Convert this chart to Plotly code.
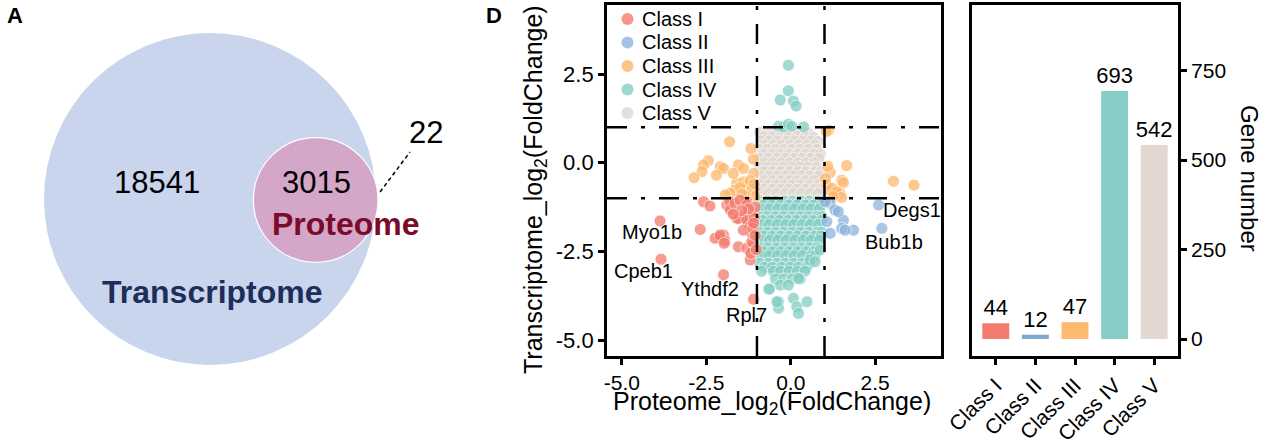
import plotly.graph_objects as go
import math

FONT = "Liberation Sans, Arial, sans-serif"

# ---------------- data ----------------
venn_counts = {"transcriptome_only": 18541, "overlap": 3015, "proteome_only": 22}

classes = ["Class I", "Class II", "Class III", "Class IV", "Class V"]
gene_numbers = [44, 12, 47, 693, 542]
colors = ["#F47A6C", "#8DB4DB", "#FDB86C", "#83CEC4", "#E0D6CF"]
bar_colors = ["#F57B6E", "#7FA8CE", "#FDB970", "#87CFC6", "#E3D8D1"]

x_ticks = [-5.0, -2.5, 0.0, 2.5]
x_ticktext = ["-5.0", "-2.5", "0.0", "2.5"]
y_ticks = [-5.0, -2.5, 0.0, 2.5]
y_ticktext = ["-5.0", "-2.5", "0.0", "2.5"]
bar_ticks = [0, 250, 500, 750]

c1_x = [-3.87, -3.84, -1.99, -1.10, -2.68, -2.58, -2.39, -1.99, -2.10, -1.95, -1.55, -1.30, -1.20,
        -1.10, -1.89, -1.80, -1.60, -1.35, -1.25, -1.15, -1.30, -2.24, -2.09, -1.97, -1.15, -1.79,
        -1.65, -1.50, -1.30, -1.55, -1.30, -1.20, -1.15, -1.40, -1.05, -1.08, -1.12, -1.25, -1.45,
        -1.05, -1.18, -1.70, -1.02, -1.10]
c1_y = [-1.64, -2.72, -3.16, -3.85, -1.88, -1.10, -1.22, -2.04, -2.10, -2.20, -2.37, -2.41, -2.74,
        -2.27, -1.19, -1.10, -1.57, -1.50, -1.70, -1.40, -1.10, -2.13, -2.04, -2.27, -2.23, -1.33,
        -1.15, -1.05, -1.19, -1.57, -1.62, -1.80, -1.99, -1.90, -1.25, -1.55, -1.85, -1.30, -1.35,
        -2.05, -2.55, -1.45, -2.45, -1.70]

c2_x = [2.60, 2.70, 1.17, 1.31, 1.56, 1.51, 1.86, 1.17, 1.07, 1.41, 1.61, 1.02]
c2_y = [-1.19, -1.85, -1.15, -1.33, -1.62, -1.85, -1.90, -1.99, -1.66, -1.38, -1.90, -1.10]

c3_x = [-1.81, -2.44, -2.58, -2.63, -2.86, -2.09, -1.99, -1.55, -1.40, -1.60, -1.40, -1.30, -1.65,
        -1.79, -1.94, -1.10, -1.10, -1.20, -1.05, -1.25, 1.12, 1.05, 1.66, 1.17, 1.51, 1.56, 1.07,
        1.17, 1.31, 1.46, 3.04, 3.65, 1.22, 1.36, 1.51, 1.03, -1.50, -1.15, -1.05, 1.10, -1.35,
        -1.70, -2.20, -1.08, 1.25, -1.18, -1.45]
c3_y = [0.59, 0.06, -0.06, -0.25, -0.42, -0.11, -0.16, -0.06, -0.16, -0.58, -0.54, -0.63, -0.77,
        -0.86, -0.91, 0.10, -0.30, -0.50, -0.70, -0.85, 0.92, 0.88, -0.08, -0.27, -0.49, -0.56, -0.63,
        -0.77, -0.82, -0.86, -0.52, -0.63, -0.72, -0.82, -0.98, -0.45, -0.70, -0.75, -0.95, -0.10,
        -0.92, -0.30, -0.35, -0.60, -0.95, 0.40, -0.88]

c4_x = [-0.07, -0.07, -0.31, 0.08, 0.16, -0.36, -0.22, -0.07, 0.03, 0.38,
        -0.93, -0.68, -0.44, -0.19, 0.06, 0.30, 0.55, 0.80, 0.95,
        -0.80, -0.56, -0.31, -0.06, 0.19, 0.44, 0.68, 0.90,
        -0.88, -0.63, -0.38, -0.14, 0.11, 0.36, 0.60, 0.85,
        -0.95, -0.71, -0.46, -0.22, 0.03, 0.27, 0.52, 0.77, 0.93,
        -0.83, -0.58, -0.33, -0.08, 0.17, 0.42, 0.66, 0.90,
        -0.90, -0.65, -0.40, -0.15, 0.09, 0.34, 0.58, 0.83,
        -0.94, -0.69, -0.45, -0.20, 0.05, 0.29, 0.54, 0.78, 0.92,
        -0.80, -0.55, -0.30, -0.05, 0.20, 0.45, 0.70, 0.90,
        -0.88, -0.63, -0.38, -0.13, 0.12, 0.37, 0.61, 0.85,
        -0.93, -0.68, -0.43, -0.18, 0.07, 0.31, 0.56, 0.78,
        -0.80, -0.55, -0.30, -0.05, 0.20, 0.45, 0.68,
        -0.90, -0.64, -0.39, -0.14, 0.10, 0.35, 0.60, 0.72,
        -0.92, -0.66, -0.41, -0.16, 0.09, 0.34, 0.55,
        -0.78, -0.55, -0.28, -0.02, 0.22, 0.47,
        -0.86, -0.51, -0.30, -0.05, 0.20, 0.42,
        -0.45, -0.20, 0.05, 0.28,
        -0.31, -0.07, 0.23,
        -0.66, -0.36, -0.36, 0.08, 0.18, 0.23, 0.48, 0.57, 0.72, 0.87, -0.63, -0.41]
c4_y = [2.75, 2.03, 1.77, 1.74, 1.60, 1.03, 1.01, 1.09, 1.03, 1.01,
        -1.08, -1.08, -1.08, -1.08, -1.08, -1.08, -1.08, -1.08, -1.08,
        -1.19, -1.19, -1.19, -1.19, -1.19, -1.19, -1.19, -1.19,
        -1.30, -1.30, -1.30, -1.30, -1.30, -1.30, -1.30, -1.30,
        -1.52, -1.52, -1.52, -1.52, -1.52, -1.52, -1.52, -1.52, -1.52,
        -1.63, -1.63, -1.63, -1.63, -1.63, -1.63, -1.63, -1.63,
        -1.74, -1.74, -1.74, -1.74, -1.74, -1.74, -1.74, -1.74,
        -1.96, -1.96, -1.96, -1.96, -1.96, -1.96, -1.96, -1.96, -1.96,
        -2.07, -2.07, -2.07, -2.07, -2.07, -2.07, -2.07, -2.07,
        -2.18, -2.18, -2.18, -2.18, -2.18, -2.18, -2.18, -2.18,
        -2.40, -2.40, -2.40, -2.40, -2.40, -2.40, -2.40, -2.40,
        -2.51, -2.51, -2.51, -2.51, -2.51, -2.51, -2.51,
        -2.62, -2.62, -2.62, -2.62, -2.62, -2.62, -2.62, -2.62,
        -2.84, -2.84, -2.84, -2.84, -2.84, -2.84, -2.84,
        -2.95, -2.95, -2.95, -2.95, -2.95, -2.95,
        -3.06, -3.06, -3.06, -3.06, -3.06, -3.06,
        -3.28, -3.28, -3.28, -3.28,
        -3.45, -3.45, -3.26,
        -3.57, -3.92, -4.10, -3.82, -4.06, -4.25, -3.92, -2.74, -2.79, -2.46, -3.56, -3.92]

c5_x = [-0.92, -0.68, -0.43, -0.18, 0.07, 0.31, 0.52,
        -0.80, -0.55, -0.30, -0.06, 0.19, 0.42, 0.68,
        -0.88, -0.63, -0.39, -0.12, 0.12, 0.36, 0.60, 0.82,
        -0.78, -0.52, -0.28, -0.02, 0.24, 0.48, 0.72,
        -0.93, -0.70, -0.45, -0.20, 0.04, 0.28, 0.53, 0.78,
        -0.80, -0.55, -0.30, -0.06, 0.19, 0.43, 0.68, 0.88,
        -0.90, -0.66, -0.41, -0.15, 0.10, 0.34, 0.58, 0.84,
        -0.78, -0.53, -0.28, -0.03, 0.22, 0.46, 0.70,
        -0.94, -0.70, -0.46, -0.22, 0.03, 0.27, 0.51, 0.76,
        -0.80, -0.55, -0.30, -0.04, 0.21, 0.45, 0.70, 0.90,
        -0.89, -0.64, -0.40, -0.16, 0.09, 0.33, 0.57, 0.82,
        -0.78, -0.53, -0.28, -0.04, 0.18, 0.43, 0.68,
        -0.92, -0.68, -0.44, -0.20, 0.05, 0.29, 0.54, 0.80,
        -0.80, -0.55, -0.31, -0.06, 0.19, 0.44, 0.69, 0.90,
        -0.90, -0.66, -0.42, -0.17, 0.08, 0.32, 0.57, 0.81]
c5_y = [0.86, 0.86, 0.86, 0.86, 0.86, 0.86, 0.84,
        0.74, 0.74, 0.74, 0.74, 0.74, 0.74, 0.72,
        0.62, 0.62, 0.62, 0.62, 0.62, 0.62, 0.62, 0.60,
        0.50, 0.50, 0.50, 0.50, 0.50, 0.50, 0.50,
        0.38, 0.38, 0.38, 0.38, 0.38, 0.38, 0.38, 0.38,
        0.25, 0.25, 0.25, 0.25, 0.25, 0.25, 0.25, 0.25,
        0.13, 0.13, 0.13, 0.13, 0.13, 0.13, 0.13, 0.13,
        0.00, 0.00, 0.00, 0.00, 0.00, 0.00, 0.00,
        -0.12, -0.12, -0.12, -0.12, -0.12, -0.12, -0.12, -0.12,
        -0.25, -0.25, -0.25, -0.25, -0.25, -0.25, -0.25, -0.25,
        -0.37, -0.37, -0.37, -0.37, -0.37, -0.37, -0.37, -0.37,
        -0.50, -0.50, -0.50, -0.50, -0.50, -0.50, -0.50,
        -0.62, -0.62, -0.62, -0.62, -0.62, -0.62, -0.62, -0.62,
        -0.74, -0.74, -0.74, -0.74, -0.74, -0.74, -0.74, -0.74,
        -0.86, -0.86, -0.86, -0.86, -0.86, -0.86, -0.86, -0.86]

gene_labels = ["Myo1b", "Cpeb1", "Ythdf2", "Rpl7", "Degs1", "Bub1b"]
gene_label_x = [-4.11, -4.37, -2.39, -1.30, 3.58, 3.07]
gene_label_y = [-1.95, -3.05, -3.55, -4.29, -1.33, -2.24]

# ---------------- figure ----------------
W, H = 1268, 444
fig = go.Figure()

scatter_sets = [(c1_x, c1_y), (c2_x, c2_y), (c3_x, c3_y), (c4_x, c4_y), (c5_x, c5_y)]
draw_order = [4, 3, 2, 0, 1]
for i in draw_order:
    xs, ys = scatter_sets[i]
    fig.add_trace(go.Scatter(
        x=xs, y=ys, mode="markers", name=classes[i],
        marker=dict(size=12, color=colors[i], opacity=0.75,
                    line=dict(color="white", width=0.8)),
        xaxis="x", yaxis="y", showlegend=False))

fig.add_trace(go.Bar(
    x=classes, y=gene_numbers, marker=dict(color=bar_colors, line=dict(width=0)),
    width=0.68, text=[str(v) for v in gene_numbers], textposition="outside",
    constraintext="none",
    textfont=dict(size=22, color="black", family=FONT), cliponaxis=False,
    xaxis="x2", yaxis="y2", showlegend=False))

axis_line = dict(showline=True, linecolor="black", linewidth=2.8, mirror=True,
                 ticks="outside", ticklen=6, tickwidth=2.5, tickcolor="black",
                 showgrid=False, zeroline=False, automargin=False)

fig.update_layout(
    width=W, height=H, autosize=False,
    margin=dict(l=0, r=0, t=0, b=0, autoexpand=False),
    paper_bgcolor="white", plot_bgcolor="white",
    font=dict(family=FONT, color="black"),
    showlegend=False,
    xaxis=dict(domain=[607 / W, 941 / W], range=[-5.44, 4.45], anchor="y",
               tickvals=x_ticks, ticktext=x_ticktext, tickfont=dict(size=21),
               **axis_line),
    yaxis=dict(domain=[1 - 356 / H, 1 - 5 / H], range=[-5.45, 4.45], anchor="x",
               tickvals=y_ticks, ticktext=y_ticktext, tickfont=dict(size=22),
               **axis_line),
    xaxis2=dict(domain=[972 / W, 1178 / W], range=[-0.6, 4.6], anchor="y2",
                tickangle=-45, tickfont=dict(size=21), **axis_line),
    yaxis2=dict(domain=[1 - 356 / H, 1 - 5 / H], range=[-47.5, 933.5], anchor="x2",
                side="right", tickvals=bar_ticks, tickfont=dict(size=21), **axis_line),
    xaxis3=dict(domain=[0, 460 / W], range=[0, 460], visible=False, anchor="y3"),
    yaxis3=dict(domain=[0, 1], range=[444, 0], visible=False, anchor="x3"),
)


def paper_text(px, py, text, size, angle=0, xanchor="center", color="black"):
    fig.add_annotation(x=px / W, y=1 - py / H, xref="paper", yref="paper", text=text,
                       showarrow=False, textangle=angle, xanchor=xanchor, yanchor="middle",
                       font=dict(size=size, color=color))


# Axis titles
paper_text(772, 403, "Proteome_log<sub>2</sub>(FoldChange)", 25)
paper_text(535, 190, "Transcriptome_log<sub>2</sub>(FoldChange)", 25, angle=-90)
paper_text(1250, 178, "Gene number", 24, angle=90)

# Manual legend (inside scatter panel)
for i, name in enumerate(classes):
    cy = 19 + 23.5 * i
    cx = 627.5
    r = 6
    fig.add_shape(type="circle", xref="paper", yref="paper",
                  x0=(cx - r) / W, x1=(cx + r) / W, y0=1 - (cy + r) / H, y1=1 - (cy - r) / H,
                  fillcolor=colors[i], opacity=0.8, line=dict(width=0))
    paper_text(640, cy, name, 20, xanchor="left")

# Dashed threshold lines
dash = "20px,14px,4px,14px"
for xv in (-1, 1):
    fig.add_shape(type="line", xref="x", yref="y domain", x0=xv, x1=xv, y0=0, y1=1,
                  line=dict(color="black", width=2.5, dash=dash), layer="above")
for yv in (-1, 1):
    fig.add_shape(type="line", xref="x domain", yref="y", x0=0, x1=1, y0=yv, y1=yv,
                  line=dict(color="black", width=2.5, dash=dash), layer="above")

# Gene labels
for t, gx, gy in zip(gene_labels, gene_label_x, gene_label_y):
    fig.add_annotation(x=gx, y=gy, xref="x", yref="y", text=t, showarrow=False,
                       xanchor="center", yanchor="middle",
                       font=dict(size=20, color="black"))

# ---------------- Venn (panel A) ----------------
big_total = venn_counts["transcriptome_only"] + venn_counts["overlap"]
small_total = venn_counts["overlap"] + venn_counts["proteome_only"]
r_big = 166
r_small = r_big * math.sqrt(small_total / big_total)
cb = (210, 199)
cs = (378 - r_small, 200)
fig.add_shape(type="circle", xref="x3", yref="y3",
              x0=cb[0] - r_big, x1=cb[0] + r_big, y0=cb[1] - r_big, y1=cb[1] + r_big,
              fillcolor="#C9D5EC", line=dict(width=0), layer="below")
fig.add_shape(type="circle", xref="x3", yref="y3",
              x0=cs[0] - r_small, x1=cs[0] + r_small, y0=cs[1] - r_small, y1=cs[1] + r_small,
              fillcolor="#D4A6C8", line=dict(color="white", width=1.2), layer="below")
fig.add_shape(type="line", xref="x3", yref="y3", x0=380, y0=192, x1=410, y1=152,
              line=dict(color="black", width=1.5, dash="4px,3px"))

venn_text = [
    (157, 182, f"{venn_counts['transcriptome_only']}", "black", False, 31),
    (316, 182, f"{venn_counts['overlap']}", "black", False, 31),
    (426, 132, f"{venn_counts['proteome_only']}", "black", False, 31),
    (346, 224, "Proteome", "#7A0B2A", True, 32),
    (212, 292, "Transcriptome", "#1F2D5B", True, 32),
]
for vx, vy, t, c, b, s in venn_text:
    fig.add_annotation(x=vx, y=vy, xref="x3", yref="y3", showarrow=False,
                       xanchor="center", yanchor="middle",
                       text=f"<b>{t}</b>" if b else t, font=dict(size=s, color=c))

# Panel labels
paper_text(15, 16, "<b>A</b>", 22)
paper_text(494, 16, "<b>D</b>", 22)

fig.write_html("out.html")
